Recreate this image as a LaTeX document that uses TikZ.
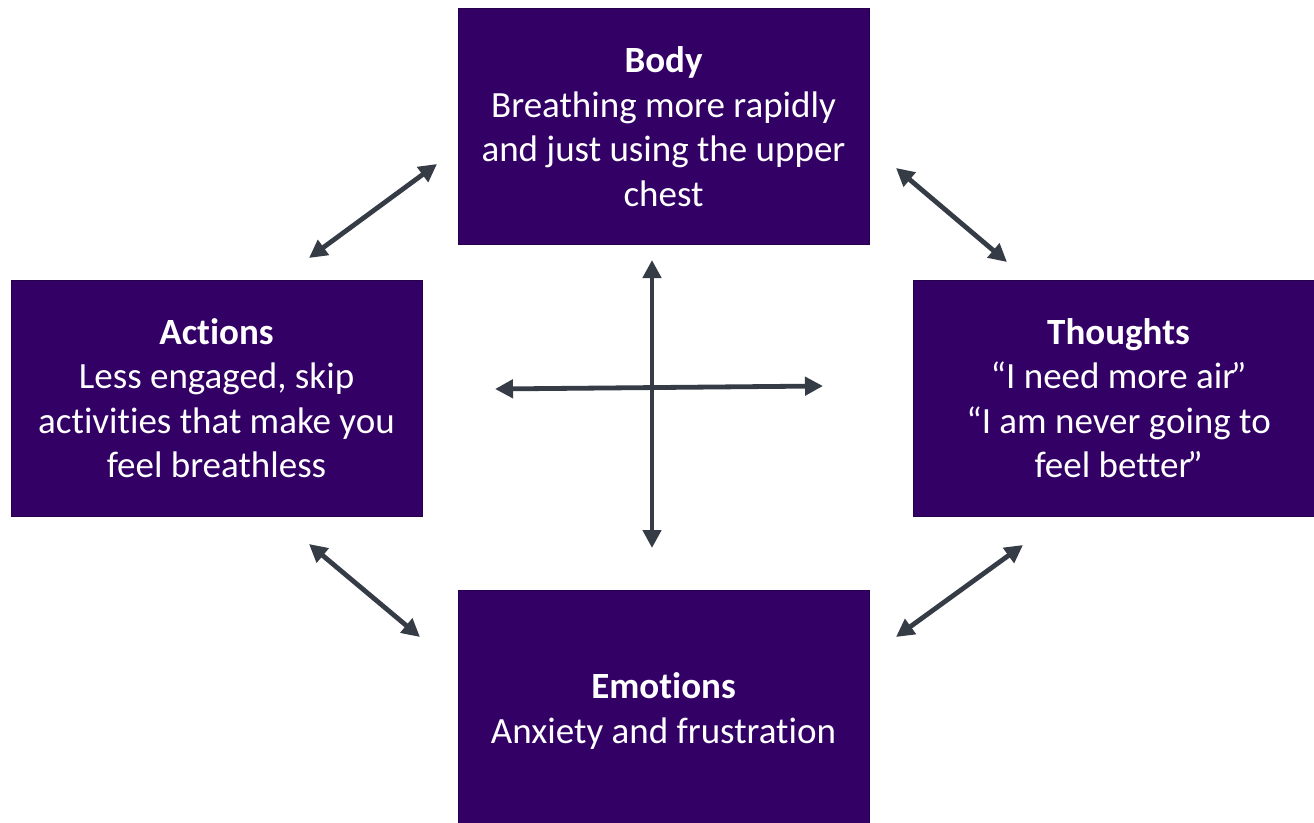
\documentclass[tikz,border=0pt]{standalone}
\usepackage{fontspec}
\setmainfont{Carlito}[Ligatures={NoCommon}]
\usetikzlibrary{arrows.meta}
\definecolor{boxpurple}{HTML}{330066}
\definecolor{arrowgray}{HTML}{353C46}
\newcommand{\myclosequote}{\kern-0.12em”}
\begin{document}
\begin{tikzpicture}[x=1pt,y=-1pt,
  boxstyle/.style={fill=boxpurple, draw=boxpurple!75!black, line width=0.8pt, text=white, align=center, inner sep=0pt, minimum width=411pt, minimum height=236pt, font=\fontsize{37}{44.5}\selectfont},
  dblarrow/.style={draw=arrowgray, fill=arrowgray, line width=4.8pt, {Triangle[length=18pt,width=18pt]}-{Triangle[length=18pt,width=18pt]}}]
\clip (0,0) rectangle (1314,822);
\fill[white] (0,0) rectangle (1314,822);
\node[boxstyle] (body) at (663.5,126.5) {\textbf{Body}\\Breathing more rapidly\\and just using the upper\\chest};
\node[boxstyle] (actions) at (216.5,398) {\textbf{Actions}\\Less engaged, skip\\activities that make you\\feel breathless};
\node[boxstyle] (thoughts) at (1118.5,398) {\textbf{Thoughts}\\“I need more air\myclosequote\\“I am never going to\\feel better\myclosequote};
\node[boxstyle, minimum height=242pt] (emotions) at (663.5,711) {\textbf{Emotions}\\Anxiety and frustration};
\coordinate (ba1) at (437,164);
\coordinate (ba2) at (309,258);
\coordinate (bt1) at (896,168);
\coordinate (bt2) at (1007,262);
\coordinate (ae1) at (309,544);
\coordinate (ae2) at (420,637);
\coordinate (et1) at (896,637);
\coordinate (et2) at (1023,545);
\coordinate (vt) at (652,260);
\coordinate (vb) at (652,548);
\coordinate (hl) at (495,389);
\coordinate (hr) at (823,386);
\draw[dblarrow] (ba1) -- (ba2);
\draw[dblarrow] (bt1) -- (bt2);
\draw[dblarrow] (ae1) -- (ae2);
\draw[dblarrow] (et1) -- (et2);
\draw[dblarrow] (vt) -- (vb);
\draw[dblarrow] (hl) -- (hr);
\end{tikzpicture}
\end{document}
